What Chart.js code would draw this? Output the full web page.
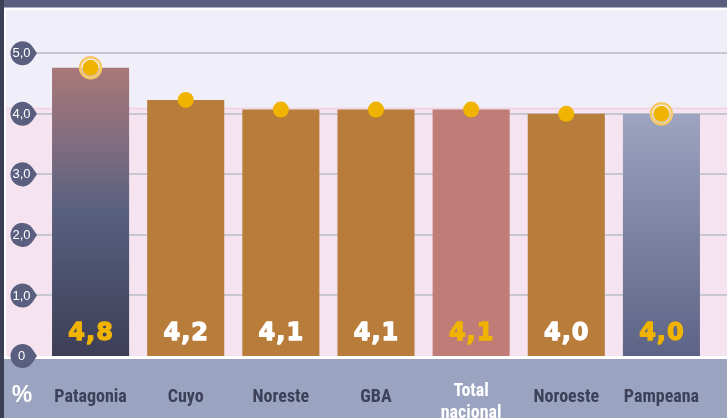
<!DOCTYPE html>
<html>
<head>
<meta charset="utf-8">
<script src="https://cdn.jsdelivr.net/npm/chart.js@4.4.1/dist/chart.umd.min.js"></script>
<style>
  html, body { margin: 0; padding: 0; background: #fff; }
  #wrap { width: 727px; height: 418px; position: relative; }
</style>
</head>
<body>
<div id="wrap"><canvas id="rateChart"></canvas></div>
<script>
// regions and values
const regions = ['Patagonia', 'Cuyo', 'Noreste', 'GBA', ['Total', 'nacional'], 'Noroeste', 'Pampeana'];
const rates = [4.76, 4.23, 4.07, 4.07, 4.07, 4.0, 4.0];
const highlighted = [4.76, null, null, null, null, null, 4.0];
const yTicks = [0, 1, 2, 3, 4, 5];

const NATIONAL = 4; // index of Total nacional
const valueColors = ['#f0b400', '#ffffff', '#ffffff', '#ffffff', '#f0b400', '#ffffff', '#f0b400'];
const labelColors = ['#3d4059', '#3d4059', '#3d4059', '#3d4059', '#ffffff', '#3d4059', '#3d4059'];

function fmt(v) {
    return v.toFixed(1).replace('.', ',');
}

function barColor(c) {
    const chart = c.chart;
    const area = chart.chartArea;
    const i = c.dataIndex;
    if (i !== 0 && i !== 6) {
        return i === NATIONAL ? '#c07c76' : '#b87d3a';
    }
    if (!area) return '#5a5f80';
    const y = chart.scales.y;
    const top = y.getPixelForValue(rates[i]);
    const g = chart.ctx.createLinearGradient(0, top, 0, area.bottom);
    if (i === 0) {
        g.addColorStop(0, '#a97878');
        g.addColorStop(0.3, '#7b6a80');
        g.addColorStop(0.5, '#58607f');
        g.addColorStop(1, '#3d3e56');
    } else {
        g.addColorStop(0, '#9ca4c0');
        g.addColorStop(1, '#5d6385');
    }
    return g;
}

// backgrounds, grid and badges
const decor = {
    id: 'decor',
    beforeDatasetsDraw(chart) {
        const ctx = chart.ctx;
        const y = chart.scales.y;
        const W = chart.width, H = chart.height;
        const zero = y.getPixelForValue(0);
        const split = y.getPixelForValue(rates[NATIONAL]) - 2;
        ctx.save();
        ctx.fillStyle = '#ffffff';
        ctx.fillRect(0, 0, W, H);
        ctx.fillStyle = '#f0eef8';
        ctx.fillRect(6, 10, W - 6, split - 10);
        ctx.fillStyle = '#f5e4ef';
        ctx.fillRect(6, split, W - 6, zero - split);
        ctx.fillStyle = '#eed6e6';
        ctx.fillRect(6, split, W - 6, 2);
        // top and left strips
        ctx.fillStyle = '#5a5f80';
        ctx.fillRect(0, 0, W, 7.5);
        ctx.fillStyle = '#3c3f55';
        ctx.fillRect(0, 0, 4, H);
        // bottom band
        ctx.fillStyle = '#9aa3bf';
        ctx.fillRect(4, zero + 3, W - 4, H - zero - 3);
        // grid
        ctx.strokeStyle = '#c6c7d0';
        ctx.lineWidth = 2;
        yTicks.forEach(v => {
            if (v === 0) return;
            const py = Math.round(y.getPixelForValue(v));
            ctx.beginPath();
            ctx.moveTo(36, py);
            ctx.lineTo(W, py);
            ctx.stroke();
        });
        ctx.restore();
    },
    afterDatasetsDraw(chart) {
        const ctx = chart.ctx;
        const x = chart.scales.x;
        ctx.save();
        // value labels inside bars, stroked to get a heavier weight
        ctx.font = 'bold 24px "DejaVu Sans"';
        ctx.textAlign = 'center';
        ctx.textBaseline = 'alphabetic';
        ctx.lineWidth = 1.3;
        ctx.lineJoin = 'round';
        if ('letterSpacing' in ctx) ctx.letterSpacing = '1px';
        rates.forEach((v, i) => {
            ctx.fillStyle = valueColors[i];
            ctx.strokeStyle = valueColors[i];
            const px = x.getPixelForValue(i) + 0.5;
            ctx.fillText(fmt(v), px, 339.5);
            ctx.strokeText(fmt(v), px, 339.5);
        });
        if ('letterSpacing' in ctx) ctx.letterSpacing = '0px';
        ctx.restore();
    },
    afterDraw(chart) {
        const ctx = chart.ctx;
        const x = chart.scales.x;
        const y = chart.scales.y;
        ctx.save();
        // y badges
        const r = 12, cx = 22.5, tip = 37;
        const a = Math.acos(r / (tip - cx));
        yTicks.forEach(v => {
            const py = y.getPixelForValue(v);
            ctx.fillStyle = '#5a5f80';
            ctx.beginPath();
            ctx.arc(cx, py, r, a, 2 * Math.PI - a);
            ctx.lineTo(tip, py);
            ctx.closePath();
            ctx.fill();
            ctx.fillStyle = '#ffffff';
            ctx.font = '13px "Liberation Sans", Arial, sans-serif';
            ctx.textAlign = 'center';
            ctx.textBaseline = 'middle';
            ctx.fillText(v === 0 ? '0' : fmt(v), 21.5, py + 0.5);
        });
        // category labels
        ctx.font = 'bold 18px "Liberation Sans Narrow", "Roboto Condensed", "Liberation Sans", sans-serif';
        ctx.textAlign = 'center';
        ctx.textBaseline = 'alphabetic';
        regions.forEach((lab, i) => {
            const px = x.getPixelForValue(i);
            ctx.fillStyle = labelColors[i];
            if (Array.isArray(lab)) {
                ctx.fillText(lab[0], px, 395.5);
                ctx.fillText(lab[1], px, 417.5);
            } else {
                ctx.fillText(lab, px, 401.5);
            }
        });
        ctx.fillStyle = '#ffffff';
        ctx.font = 'bold 23px "Liberation Sans", Arial, sans-serif';
        ctx.fillText('%', 22, 401.5);
        ctx.restore();
    }
};

const ctx = document.getElementById('rateChart').getContext('2d');
const rateChart = new Chart(ctx, {
    data: {
        labels: regions,
        datasets: [{
            type: 'line',
            data: rates,
            showLine: false,
            pointRadius: 8,
            pointBackgroundColor: '#f0b400',
            pointBorderWidth: 0,
            order: 1
        }, {
            type: 'line',
            data: highlighted,
            showLine: false,
            pointRadius: 10.5,
            pointBackgroundColor: 'rgba(255,255,255,0.55)',
            pointBorderColor: '#f6c867',
            pointBorderWidth: 2.5,
            order: 2
        }, {
            type: 'bar',
            data: rates,
            backgroundColor: barColor,
            barPercentage: 0.81,
            categoryPercentage: 1,
            order: 3
        }]
    },
    options: {
        responsive: true,
        maintainAspectRatio: false,
        animation: false,
        layout: { padding: { left: 43, right: 18, top: 23, bottom: 62 } },
        scales: {
            x: { display: false },
            y: { display: false, min: 0, max: 5.5 }
        },
        plugins: {
            legend: { display: false },
            tooltip: { enabled: false }
        }
    },
    plugins: [decor]
});
</script>
</body>
</html>
